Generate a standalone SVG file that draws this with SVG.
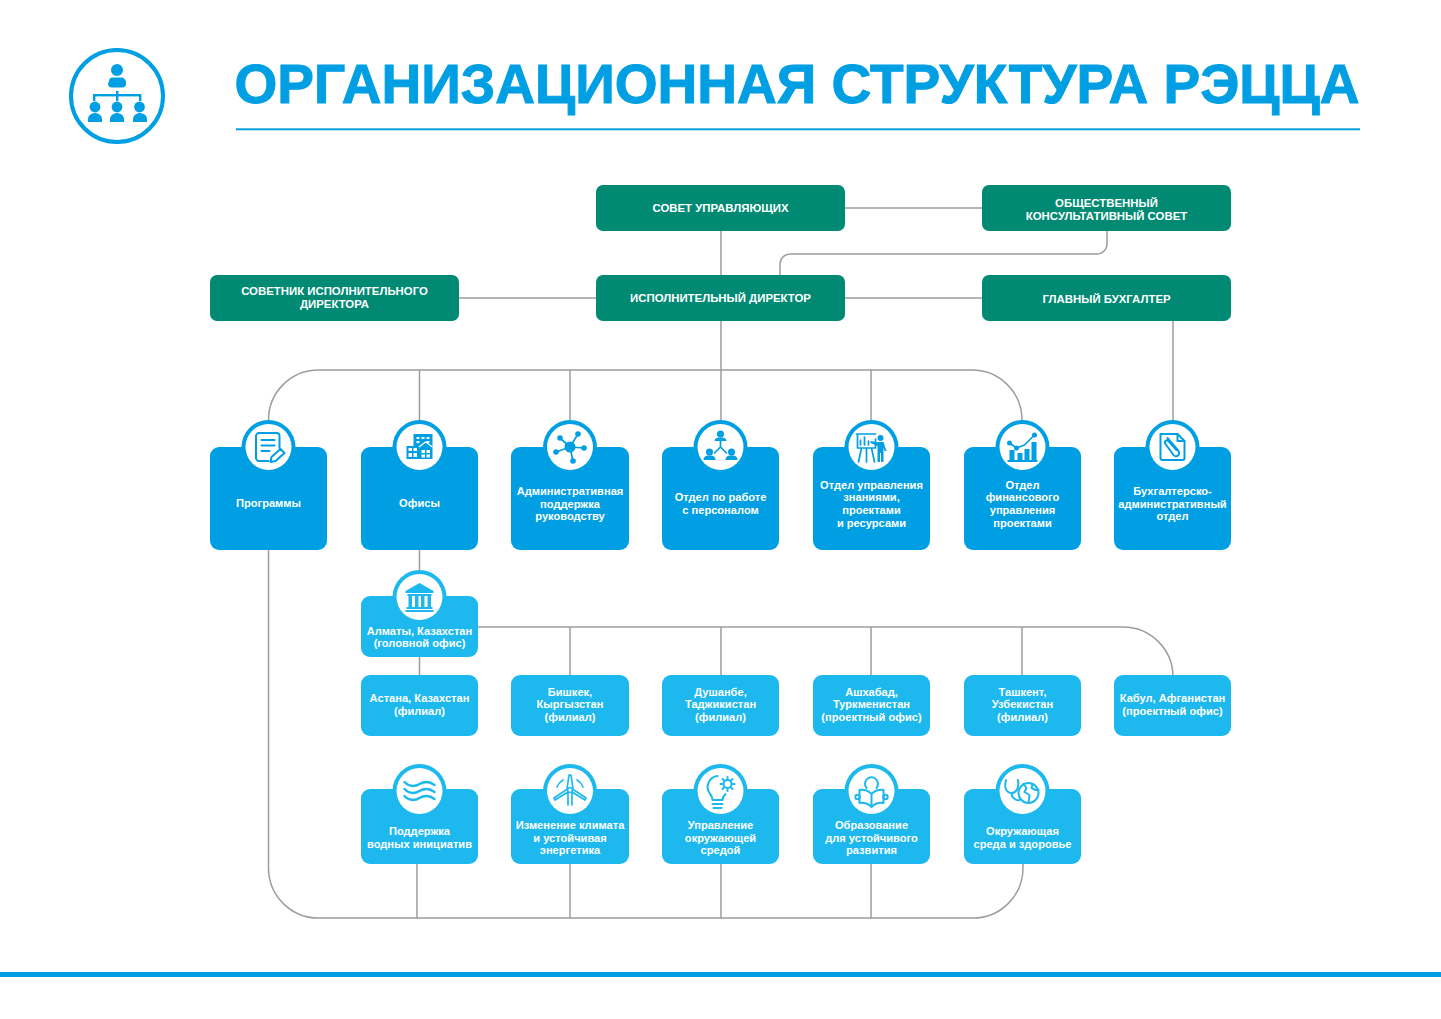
<svg xmlns="http://www.w3.org/2000/svg" width="1441" height="1019" viewBox="0 0 1441 1019">
<style>
.t{font-family:"Liberation Sans",Arial,sans-serif;font-weight:700;font-size:11.100px;fill:#fff;text-anchor:middle}
.h{font-size:11.400px}
.g{fill:#008a74}
.b{fill:#009fe3}
.l{fill:#1cb8ee}
.c{fill:none;stroke:#9d9d9d;stroke-width:1.500}
.w{fill:#fff}
.i{fill:none;stroke-width:1.700;stroke-linecap:round;stroke-linejoin:round}
.ib{stroke:#009fe3}
.il{stroke:#1cb8ee}
.fb{fill:#009fe3}
.fl{fill:#1cb8ee}
</style>
<rect width="1441" height="1019" fill="#fff"/>
<g id="header">
<circle cx="117" cy="96" r="46" fill="none" stroke="#009fe3" stroke-width="4"/>
<g class="fb">
<circle cx="117" cy="70" r="6"/>
<path d="M109 82a4 4 0 0 1 4-4h8a5 5 0 0 1 5 5v1a4 4 0 0 1-4 4h-10a4 4 0 0 1-4-4z" transform="translate(0 -.5)"/>
<rect x="93" y="94" width="48" height="2.400"/>
<rect x="93" y="94" width="2.400" height="7"/>
<rect x="116" y="91" width="2.400" height="10"/>
<rect x="139" y="94" width="2.400" height="7"/>
<circle cx="95" cy="107" r="5.400"/><circle cx="117" cy="107" r="5.400"/><circle cx="139.500" cy="107" r="5.400"/>
<path d="M88 122v-3a7 6 0 0 1 14 0v3z"/><path d="M110 122v-3a7 6 0 0 1 14 0v3z"/><path d="M133 122v-3a7 6 0 0 1 14 0v3z"/>
</g>
<text x="797" y="103" text-anchor="middle" font-family="'Liberation Sans',Arial,sans-serif" font-weight="700" font-size="55" fill="#009fe3" stroke="#009fe3" stroke-width="1" textLength="1125" lengthAdjust="spacingAndGlyphs">ОРГАНИЗАЦИОННАЯ СТРУКТУРА РЭЦЦА</text>
<rect x="236" y="128.300" width="1124" height="2" fill="#009fe3"/>
</g>
<g id="connectors">
<path class="c" d="M845 208H982M721 231V420M459 298H982M1173 321V420M1107 231V244a10 10 0 0 1-10 10H790a10 10 0 0 0-10 10V275"/>
<path class="c" d="M268.500 420A50 50 0 0 1 318.500 370H972A50 50 0 0 1 1022 420M419.500 370V420M570 370V420M871 370V420"/>
<path class="c" d="M419.500 550V570M419.500 657V675M478 627H1123A50 50 0 0 1 1173 677M570 627V675M721 627V675M871 627V675M1022 627V675"/>
<path class="c" d="M268.500 550V868A50 50 0 0 0 318.500 918H973A50 50 0 0 0 1023 868V864M417 864V918M570 864V918M721 864V918M871 864V918"/>
</g>
<g id="sovet"><rect class="g" x="596" y="185" width="249" height="46" rx="7"/><text class="t h" x="720.500" y="211.500">СОВЕТ УПРАВЛЯЮЩИХ</text></g>
<g id="public-council"><rect class="g" x="982" y="185" width="249" height="46" rx="7"/><text class="t h" x="1106.500" y="206.500">ОБЩЕСТВЕННЫЙ</text><text class="t h" x="1106.500" y="219.500">КОНСУЛЬТАТИВНЫЙ СОВЕТ</text></g>
<g id="advisor"><rect class="g" x="210" y="275" width="249" height="46" rx="7"/><text class="t h" x="334.500" y="295">СОВЕТНИК ИСПОЛНИТЕЛЬНОГО</text><text class="t h" x="334.500" y="308">ДИРЕКТОРА</text></g>
<g id="director"><rect class="g" x="596" y="275" width="249" height="46" rx="7"/><text class="t h" x="720.500" y="302">ИСПОЛНИТЕЛЬНЫЙ ДИРЕКТОР</text></g>
<g id="accountant"><rect class="g" x="982" y="275" width="249" height="46" rx="7"/><text class="t h" x="1106.500" y="303">ГЛАВНЫЙ БУХГАЛТЕР</text></g>

<g id="programs"><rect class="b" x="210" y="447" width="117" height="103" rx="9"/><circle class="b" cx="268.500" cy="447" r="27"/><circle class="w" cx="268.500" cy="447" r="23"/>
<g class="i ib" transform="translate(268.500 447)" style="stroke-width:2"><path d="M11 1V-11a3 3 0 0 0-3-3H-9.500a3 3 0 0 0-3 3V11a3 3 0 0 0 3 3H0"/><path d="M-7-7H6M-7-1.500H6M-7 4H1"/><path d="M2 15l1-5 9-8 4 4-9 8z"/></g>
<text class="t" x="268.500" y="507">Программы</text></g>
<g id="offices"><rect class="b" x="361" y="447" width="117" height="103" rx="9"/><circle class="b" cx="419.500" cy="447" r="27"/><circle class="w" cx="419.500" cy="447" r="23"/>
<g transform="translate(419.500 447)"><path class="fb" d="M-6-13H13V12H-13V-1H-6z"/><path class="w" d="M-3-10h3v2h-3zM2-10h3v2h-3zM7-10h3v2h-3zM-3-6h3v2h-3zM7-6h3v2h-3zM-11 1h3.500v3h-3.500zM-6 1h3.500v3h-3.500zM-11 6h3.500v4h-3.500zM-6 6h3.500v4h-3.500zM2 3h3.500v3h-3.500zM7 3h3.500v3h-3.500zM2 7.500h3.500v3h-3.500zM7 7.500h3.500v3h-3.500z"/><path d="M-.5 0L6-5 13 0" fill="none" stroke="#fff" stroke-width="1.200"/></g>
<text class="t" x="419.500" y="507">Офисы</text></g>
<g id="admin"><rect class="b" x="511" y="447" width="118" height="103" rx="9"/><circle class="b" cx="570" cy="447" r="27"/><circle class="w" cx="570" cy="447" r="23"/>
<g transform="translate(570 447)"><path class="i ib" d="M0 0L-10-9M0 0L8-13M0 0L14 1M0 0L3 14M0 0L-14 5"/><g class="fb"><circle r="5.500"/><circle cx="-10" cy="-9" r="2.800"/><circle cx="8" cy="-13" r="2.800"/><circle cx="14" cy="1" r="2.800"/><circle cx="3" cy="14" r="2.800"/><circle cx="-14" cy="5" r="2.800"/></g></g>
<text class="t" x="570" y="495">Административная</text><text class="t" x="570" y="507.500">поддержка</text><text class="t" x="570" y="520">руководству</text></g>
<g id="hr"><rect class="b" x="662" y="447" width="117" height="103" rx="9"/><circle class="b" cx="720.500" cy="447" r="27"/><circle class="w" cx="720.500" cy="447" r="23"/>
<g transform="translate(720.500 447)"><path class="i ib" d="M0-6V0L-6 6M0 0L6 6"/><g class="fb"><circle cy="-13" r="3.500"/><path d="M-6-6q0-3 4-3.500h4q4 .5 4 3.500z"/><circle cx="-11" cy="5" r="3.500"/><path d="M-17 13q0-4 4-4.500h4q4 .5 4 4.500z"/><circle cx="11" cy="5" r="3.500"/><path d="M5 13q0-4 4-4.500h4q4 .5 4 4.500z"/></g></g>
<text class="t" x="720.500" y="501">Отдел по работе</text><text class="t" x="720.500" y="514">с персоналом</text></g>
<g id="knowledge"><rect class="b" x="813" y="447" width="117" height="103" rx="9"/><circle class="b" cx="871.500" cy="447" r="27"/><circle class="w" cx="871.500" cy="447" r="23"/>
<g transform="translate(871.500 447)"><path class="i ib" d="M-15-13H4M-14-12V1H4V-8M-10 1L-13 15M-5 1V15M0 1L3 15M-11-2V-7M-7-2V-10M-3-2V-6"/><g class="fb"><circle cx="9" cy="-9" r="3"/><path d="M5-5H12L15 4 13 4 12 0V15H9.500V6H8.500V15H6V-1L-1-4V-6z"/></g></g>
<text class="t" x="871.500" y="489">Отдел управления</text><text class="t" x="871.500" y="501">знаниями,</text><text class="t" x="871.500" y="514">проектами</text><text class="t" x="871.500" y="527">и ресурсами</text></g>
<g id="finance"><rect class="b" x="964" y="447" width="117" height="103" rx="9"/><circle class="b" cx="1022.500" cy="447" r="27"/><circle class="w" cx="1022.500" cy="447" r="23"/>
<g transform="translate(1022.500 447)"><path class="i ib" d="M-13-4L-6 1 2-2 12-12"/><g class="fb"><circle cx="-13" cy="-4" r="2.500"/><circle cx="-6" cy="1" r="2.500"/><circle cx="12" cy="-12" r="2.500"/><rect x="-13" y="3" width="5" height="10"/><rect x="-5" y="6" width="5" height="7"/><rect x="2" y="2" width="5" height="11"/><rect x="9" y="-5" width="5" height="18"/><rect x="-15" y="13" width="30" height="2"/></g></g>
<text class="t" x="1022.500" y="489">Отдел</text><text class="t" x="1022.500" y="501">финансового</text><text class="t" x="1022.500" y="514">управления</text><text class="t" x="1022.500" y="527">проектами</text></g>
<g id="accounting"><rect class="b" x="1114" y="447" width="117" height="103" rx="9"/><circle class="b" cx="1172.500" cy="447" r="27"/><circle class="w" cx="1172.500" cy="447" r="23"/>
<g class="i ib" transform="translate(1172.500 447)" style="stroke-width:2"><path d="M-12-13H5L12-6V11a2 2 0 0 1-2 2H-10a2 2 0 0 1-2-2z"/><path d="M5-13V-6H12"/><path d="M-5-9L6 4a3 3 0 0 1-5 4L-7-3a2 2 0 0 1 3-3L4 3"/></g>
<text class="t" x="1172.500" y="495">Бухгалтерско-</text><text class="t" x="1172.500" y="508">административный</text><text class="t" x="1172.500" y="520">отдел</text></g>

<g id="almaty"><rect class="l" x="361" y="596" width="117" height="61" rx="9"/><circle class="l" cx="419.500" cy="597" r="27"/><circle class="w" cx="419.500" cy="597" r="23"/>
<g class="fl" transform="translate(419.500 597)"><path d="M0-14L14-6V-4H-14V-6z"/><rect x="-12" y="-3" width="24" height="2"/><rect x="-11" y="-1" width="3.500" height="11"/><rect x="-4.500" y="-1" width="3.500" height="11"/><rect x="1.500" y="-1" width="3.500" height="11"/><rect x="8" y="-1" width="3.500" height="11"/><rect x="-13" y="10" width="26" height="2"/><rect x="-14" y="13" width="28" height="2"/></g>
<text class="t" x="419.500" y="634.500">Алматы, Казахстан</text><text class="t" x="419.500" y="647">(головной офис)</text></g>
<g id="astana"><rect class="l" x="361" y="675" width="117" height="61" rx="9"/><text class="t" x="419.500" y="702">Астана, Казахстан</text><text class="t" x="419.500" y="715">(филиал)</text></g>
<g id="bishkek"><rect class="l" x="511" y="675" width="118" height="61" rx="9"/><text class="t" x="570" y="696">Бишкек,</text><text class="t" x="570" y="708">Кыргызстан</text><text class="t" x="570" y="721">(филиал)</text></g>
<g id="dushanbe"><rect class="l" x="662" y="675" width="117" height="61" rx="9"/><text class="t" x="720.500" y="696">Душанбе,</text><text class="t" x="720.500" y="708">Таджикистан</text><text class="t" x="720.500" y="721">(филиал)</text></g>
<g id="ashgabat"><rect class="l" x="813" y="675" width="117" height="61" rx="9"/><text class="t" x="871.500" y="696">Ашхабад,</text><text class="t" x="871.500" y="708">Туркменистан</text><text class="t" x="871.500" y="721">(проектный офис)</text></g>
<g id="tashkent"><rect class="l" x="964" y="675" width="117" height="61" rx="9"/><text class="t" x="1022.500" y="696">Ташкент,</text><text class="t" x="1022.500" y="708">Узбекистан</text><text class="t" x="1022.500" y="721">(филиал)</text></g>
<g id="kabul"><rect class="l" x="1114" y="675" width="117" height="61" rx="9"/><text class="t" x="1172.500" y="702">Кабул, Афганистан</text><text class="t" x="1172.500" y="715">(проектный офис)</text></g>

<g id="water"><rect class="l" x="361" y="789" width="117" height="75" rx="9"/><circle class="l" cx="419.500" cy="791" r="27"/><circle class="w" cx="419.500" cy="791" r="23"/>
<g class="i il" transform="translate(419.500 791)" style="stroke-width:2.400"><path d="M-15-9q4 4 8 4t7-2 7-2 8 3"/><path d="M-15-2q4 4 8 4t7-2 7-2 8 3"/><path d="M-15 5q4 4 8 4t7-2 7-2 8 3"/></g>
<text class="t" x="419.500" y="835">Поддержка</text><text class="t" x="419.500" y="848">водных инициатив</text></g>
<g id="climate"><rect class="l" x="511" y="789" width="118" height="75" rx="9"/><circle class="l" cx="570" cy="791" r="27"/><circle class="w" cx="570" cy="791" r="23"/>
<g class="i il" transform="translate(570 791)"><path d="M-3-2L-1-16H1L3-2M-2 1L-15 9-16 7-4-1M2 1L15 9 16 7 4-1M-2 2V14M2 2V14"/><circle cy="-1" r="2.500"/><path d="M-7-11a14 14 0 0 0-6 7M7-11a14 14 0 0 1 6 7"/></g>
<text class="t" x="570" y="829">Изменение климата</text><text class="t" x="570" y="842">и устойчивая</text><text class="t" x="570" y="854">энергетика</text></g>
<g id="environment"><rect class="l" x="662" y="789" width="117" height="75" rx="9"/><circle class="l" cx="720.500" cy="791" r="27"/><circle class="w" cx="720.500" cy="791" r="23"/>
<g class="i il" transform="translate(720.500 791)" style="stroke-width:2"><path d="M-3-15a11 11 0 0 0-8 17c2 3 3 4 3 7H2c0-3 1-4 3-6"/><path d="M-8 13H2M-7 17H1"/><circle cx="7" cy="-7" r="4"/><path d="M7-14V-12M7-2V0M0-7H2M12-7H14M2-12L3.500-10.500M10.500-3.500L12-2M12-12L10.500-10.500M3.500-3.500L2-2"/></g>
<text class="t" x="720.500" y="829">Управление</text><text class="t" x="720.500" y="842">окружающей</text><text class="t" x="720.500" y="854">средой</text></g>
<g id="education"><rect class="l" x="813" y="789" width="117" height="75" rx="9"/><circle class="l" cx="871.500" cy="791" r="27"/><circle class="w" cx="871.500" cy="791" r="23"/>
<g class="i il" transform="translate(871.500 791)" style="stroke-width:2"><path d="M-5-3A6.500 6.500 0 1 1 5-3"/><path d="M0 3Q-5-2-12-1V12Q-5 11 0 16Q5 11 12 12V-1Q5-2 0 3V16"/><circle cx="-14" cy="6" r="2.200"/><circle cx="14" cy="6" r="2.200"/></g>
<text class="t" x="871.500" y="829">Образование</text><text class="t" x="871.500" y="842">для устойчивого</text><text class="t" x="871.500" y="854">развития</text></g>
<g id="health"><rect class="l" x="964" y="789" width="117" height="75" rx="9"/><circle class="l" cx="1022.500" cy="791" r="27"/><circle class="w" cx="1022.500" cy="791" r="23"/>
<g class="i il" transform="translate(1022.500 791)" style="stroke-width:2"><circle cx="6" cy="2" r="10"/><path d="M-16.500-11C-19-2-15 2-11 2S-3-2-4.500-11M-11 2C-11 7-6 10-3 9M1-7L4-3 2 1 7 4 6 12M10-7L9-3 13-1 16-1"/></g>
<text class="t" x="1022.500" y="835">Окружающая</text><text class="t" x="1022.500" y="848">среда и здоровье</text></g>
<rect id="footer-line" x="0" y="972" width="1441" height="5" fill="#009fe3"/>
</svg>
